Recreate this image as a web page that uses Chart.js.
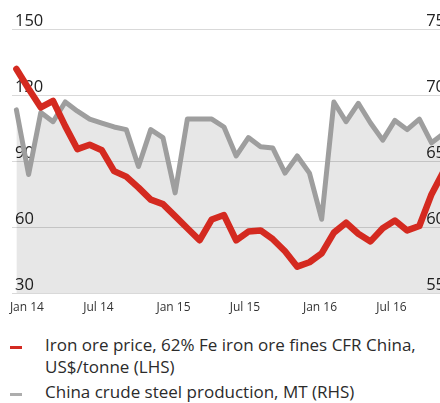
<!DOCTYPE html>
<html>
<head>
<meta charset="utf-8">
<script src="https://cdn.jsdelivr.net/npm/chart.js@4.4.1/dist/chart.umd.min.js"></script>
<style>
  html, body { margin: 0; padding: 0; background: #fff; overflow: hidden; }
  body { width: 440px; height: 403px; position: relative; font-family: "Open Sans", sans-serif; }
  #chart { position: absolute; left: 0; top: 0; }
  .legend { position: absolute; left: 0; top: 334px; width: 440px; color: #2b2b2b; font-size: 17px; line-height: 22px; }
  .item { position: relative; padding-left: 45px; margin-bottom: 3px; white-space: nowrap; }
  .dash { position: absolute; left: 10px; top: 12px; width: 12px; height: 3px; }
</style>
</head>
<body>
<canvas id="chart" width="445" height="330"></canvas>
<div class="legend" id="legend"></div>
<script>
// months Jan 14 .. Dec 16
const months = [
  'Jan 14','Feb 14','Mar 14','Apr 14','May 14','Jun 14','Jul 14','Aug 14','Sep 14','Oct 14','Nov 14','Dec 14',
  'Jan 15','Feb 15','Mar 15','Apr 15','May 15','Jun 15','Jul 15','Aug 15','Sep 15','Oct 15','Nov 15','Dec 15',
  'Jan 16','Feb 16','Mar 16','Apr 16','May 16','Jun 16','Jul 16','Aug 16','Sep 16','Oct 16','Nov 16','Dec 16'
];
// iron ore price, US$/tonne (LHS)
const ironOre = [
  132, 123, 114.5, 117.5, 106, 95.5, 97.5, 95, 85.5, 83, 78, 72.5,
  70.5, 65, 59.5, 54, 63.5, 65.5, 54, 58, 58.5, 54.5, 49, 42,
  44, 48, 57.5, 62, 57, 53.5, 59.5, 63, 58.5, 60.5, 75, 85.5
];
// China crude steel production, MT (RHS)
const steel = [
  68.9, 64.0, 68.7, 68.0, 69.5, 68.8, 68.2, 67.9, 67.6, 67.4, 64.6, 67.4,
  66.8, 62.6, 68.2, 68.2, 68.2, 67.6, 65.4, 66.8, 66.1, 66.0, 64.1, 65.4,
  64.1, 60.6, 69.5, 68.0, 69.4, 67.9, 66.6, 68.1, 67.4, 68.2, 66.4, 67.1
];
const tickMonths = [0, 6, 12, 18, 24, 30];
const leftTicks = [30, 60, 90, 120, 150];
const rightTicks = [55, 60, 65, 70, 75];

const legendItems = [
  { color: '#d32a22', lines: ['Iron ore price, 62% Fe iron ore fines CFR China,', 'US$/tonne (LHS)'] },
  { color: '#adadad', lines: ['China crude steel production, MT (RHS)'] }
];

const RED = '#d42a20';
const GREY = '#9e9e9e';
const tickFont = { family: '"Open Sans", sans-serif', size: 16.5 };

// drop the label overhang padding so the plot area sits where we put it
function noPad(scale) {
  scale.paddingTop = 0; scale.paddingBottom = 0;
  scale.paddingLeft = 0; scale.paddingRight = 0;
}

new Chart(document.getElementById('chart'), {
  type: 'line',
  data: {
    datasets: [
      {
        label: legendItems[0].lines.join(' '),
        data: ironOre.map((v, i) => ({ x: i, y: v })),
        yAxisID: 'y',
        borderColor: RED,
        borderWidth: 6.5,
        borderJoinStyle: 'round',
        borderCapStyle: 'round',
        pointRadius: 0,
        tension: 0,
        fill: false
      },
      {
        label: legendItems[1].lines[0],
        data: steel.map((v, i) => ({ x: i, y: v })),
        yAxisID: 'y2',
        borderColor: GREY,
        borderWidth: 5,
        borderJoinStyle: 'round',
        borderCapStyle: 'round',
        pointRadius: 0,
        tension: 0,
        fill: 'start',
        backgroundColor: 'rgba(0,0,0,0.095)'
      }
    ]
  },
  options: {
    responsive: false,
    animation: false,
    layout: { padding: { left: 12, top: 29.5, right: 0, bottom: 8.6 } },
    plugins: { legend: { display: false }, tooltip: { enabled: false } },
    scales: {
      x: {
        type: 'linear',
        bounds: 'data',
        min: -0.36,
        max: 35.1,
        grid: { display: false, drawTicks: false },
        border: { display: false },
        afterBuildTicks: s => { s.ticks = tickMonths.map(v => ({ value: v })); },
        afterFit: s => { noPad(s); },
        ticks: {
          autoSkip: false,
          maxRotation: 0,
          align: 'start',
          labelOffset: -6.5,
          padding: 7,
          color: '#333',
          font: { family: '"Open Sans", sans-serif', size: 12 },
          callback: v => months[v]
        }
      },
      y: {
        position: 'left',
        min: 30,
        max: 150,
        afterBuildTicks: s => { s.ticks = leftTicks.map(v => ({ value: v })); },
        afterFit: s => { s.width = 0; noPad(s); },
        grid: { color: '#d9d9d9', lineWidth: 1, drawTicks: false },
        border: { display: false },
        ticks: { mirror: true, padding: 3, labelOffset: -8, color: '#222', font: tickFont }
      },
      y2: {
        position: 'right',
        min: 55,
        max: 75,
        afterBuildTicks: s => { s.ticks = rightTicks.map(v => ({ value: v })); },
        afterFit: s => { s.width = 0; noPad(s); },
        grid: { display: false, drawTicks: false },
        border: { display: false },
        ticks: { mirror: true, crossAlign: 'far', padding: 0, labelOffset: -8, color: '#222', font: tickFont }
      }
    }
  }
});

document.getElementById('legend').innerHTML = legendItems.map(it => `
  <div class="item"><span class="dash" style="background:${it.color}"></span>${it.lines.join('<br>')}</div>
`).join('');
</script>
</body>
</html>
